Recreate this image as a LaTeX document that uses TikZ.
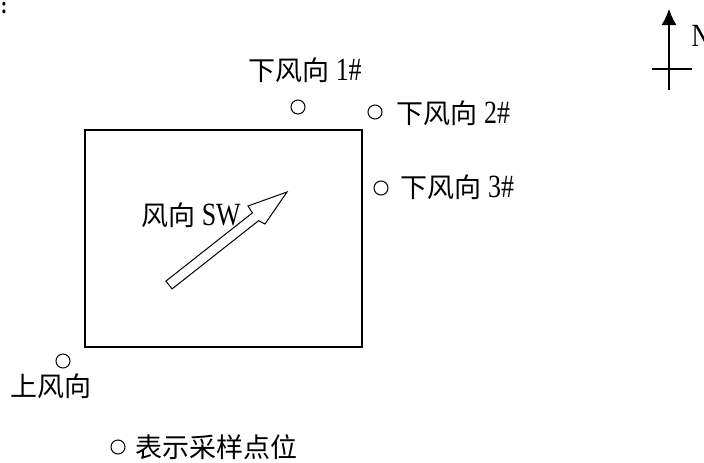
\documentclass[tikz,border=0pt]{standalone}
\usepackage{fontspec}
\setmainfont{Liberation Serif}[Scale=1.2,FakeStretch=0.8]
\newfontfamily\cjk{Noto Sans CJK SC}
\usetikzlibrary{arrows.meta}
\tikzset{>=latex}
\tikzset{
    site/.style={circle,draw,line width=1pt,minimum size=14pt,inner sep=0pt},
    lbl/.style={inner sep=0pt,font=\fontsize{27}{30}\selectfont}
}

\begin{document}
\begin{tikzpicture}[x=1pt,y=-1pt,line width=1.2pt]
    \useasboundingbox (0,0) rectangle (704,463);

    \coordinate (A) at (85,130);
    \coordinate (B) at (362,347);

    \coordinate (T) at (669,90);
    \coordinate (Tip) at (669,9);

    % plant boundary
    \draw (A) rectangle (B);

    % sampling points
    \node[site] (D1) at (298,107) {};
    \node[site] (D2) at (375,112) {};
    \node[site] (D3) at (381,188) {};
    \node[site] (U) at (63,361) {};
    \node[site] (L) at (118,447) {};

    \node[lbl] (D1t) at (305,70) {{\cjk 下风向} 1\#};
    \node[lbl,anchor=west] (D2t) at (396,113) {{\cjk 下风向} 2\#};
    \node[lbl,anchor=west] (D3t) at (400,187) {{\cjk 下风向} 3\#};
    \node[lbl] (Ut) at (51,386) {\cjk 上风向};
    \node[lbl,anchor=west] (Lt) at (135,447) {\cjk 表示采样点位};

    % wind direction
    \node[lbl] (W) at (191,215) {{\cjk 风向} SW};
    \draw[line width=1pt,line join=miter] (165.9,281.1) -- (252.4,212.9) -- (248,206) -- (287,192)
        -- (265,224) -- (258.6,220.7) -- (172.1,288.9) -- cycle;

    % north
    \draw[-{Latex[length=16pt,width=15pt]}] (T) -- (Tip);
    \draw (652,69) -- (692,69);
    \node[lbl,anchor=west] (N) at (691,36) {N};

    \node[inner sep=0pt,font=\fontsize{20}{20}\bfseries\selectfont] (c) at (4,8) {:};
\end{tikzpicture}
\end{document}
